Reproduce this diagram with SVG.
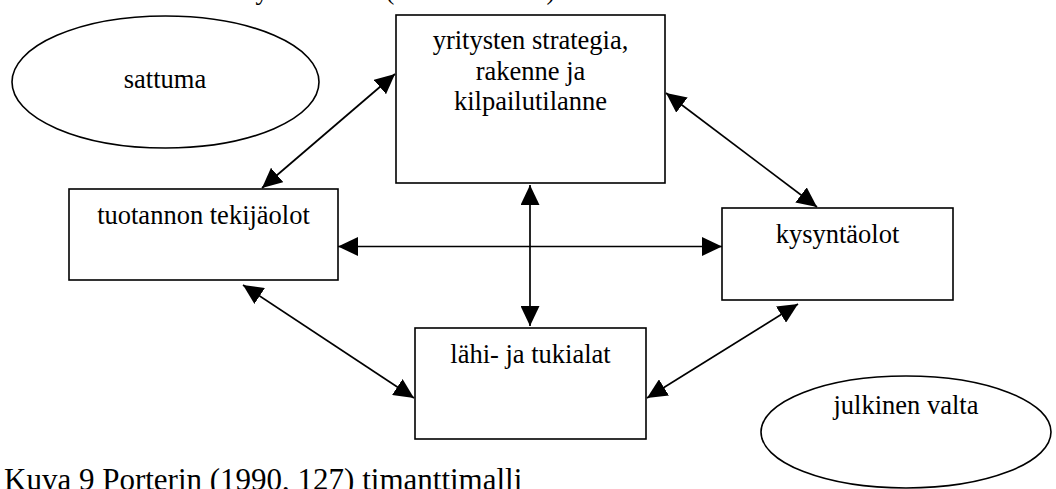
<svg xmlns="http://www.w3.org/2000/svg" width="1056" height="489" viewBox="0 0 1056 489">
<style>
.box{fill:#fff;stroke:#000;stroke-width:1.6}
.ell{fill:#fff;stroke:#000;stroke-width:1.6}
.t{font-family:'Liberation Serif','DejaVu Serif',serif;font-size:26.5px;fill:#000;text-anchor:middle}
.c{font-family:'Liberation Serif','DejaVu Serif',serif;font-size:31px;fill:#000}
.ln{stroke:#000;stroke-width:1.7;fill:none;marker-start:url(#ah);marker-end:url(#ah)}
</style>
<defs>
<marker id="ah" viewBox="0 0 20 19" refX="20" refY="9.5" markerWidth="20" markerHeight="19" markerUnits="userSpaceOnUse" orient="auto-start-reverse">
<path d="M0,0 L20,9.5 L0,19 Z" fill="#000"/>
</marker>
</defs>
<g id="top-fragments" font-family="Liberation Serif, DejaVu Serif, serif">
<text class="t" x="262" y="-1">y</text>
<text class="t" x="390" y="-1">(</text>
<text class="t" x="551" y="-1">)</text>
</g>
<g id="sattuma" font-family="Liberation Serif, DejaVu Serif, serif">
<ellipse class="ell" cx="165.5" cy="82" rx="153.5" ry="66"/>
<text class="t" x="165" y="88">sattuma</text>
</g>
<g id="julkinen" font-family="Liberation Serif, DejaVu Serif, serif">
<ellipse class="ell" cx="906" cy="432" rx="145" ry="56"/>
<text class="t" x="906" y="414">julkinen valta</text>
</g>
<g id="strategia" font-family="Liberation Serif, DejaVu Serif, serif">
<rect class="box" x="396" y="15" width="269" height="168"/>
<text class="t" x="530.5" y="49">yritysten strategia,</text>
<text class="t" x="530.5" y="79.5">rakenne ja</text>
<text class="t" x="530.5" y="110">kilpailutilanne</text>
</g>
<g id="tekijaolot" font-family="Liberation Serif, DejaVu Serif, serif">
<rect class="box" x="69" y="189" width="269" height="91"/>
<text class="t" x="203.5" y="224">tuotannon tekijäolot</text>
</g>
<g id="kysyntaolot" font-family="Liberation Serif, DejaVu Serif, serif">
<rect class="box" x="722" y="208" width="231" height="92"/>
<text class="t" x="837.5" y="243">kysyntäolot</text>
</g>
<g id="tukialat" font-family="Liberation Serif, DejaVu Serif, serif">
<rect class="box" x="415" y="328" width="231" height="111"/>
<text class="t" x="530.5" y="363">lähi- ja tukialat</text>
</g>
<g id="connectors">
<line class="ln" x1="262" y1="188" x2="395" y2="74"/>
<line class="ln" x1="243" y1="285" x2="414" y2="398"/>
<line class="ln" x1="338" y1="246.5" x2="722" y2="246.5"/>
<line class="ln" x1="530" y1="185" x2="530" y2="326"/>
<line class="ln" x1="666" y1="93" x2="817" y2="207"/>
<line class="ln" x1="647" y1="398" x2="798" y2="304"/>
</g>
<g id="caption" font-family="Liberation Serif, DejaVu Serif, serif">
<text class="c" x="4" y="490">Kuva 9 Porterin (1990, 127) timanttimalli</text>
</g>
</svg>
